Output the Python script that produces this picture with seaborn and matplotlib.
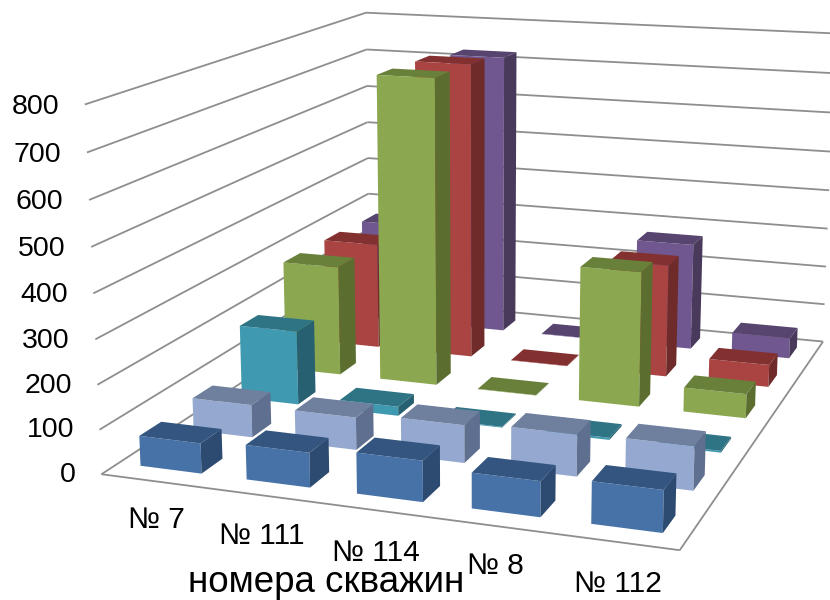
import numpy as np
import pandas as pd
import seaborn as sns
import matplotlib
matplotlib.use("Agg")
import matplotlib.pyplot as plt
from matplotlib.colors import to_rgba
from mpl_toolkits.mplot3d import Axes3D  # noqa: F401
from mpl_toolkits.mplot3d.art3d import Line3DCollection

# Depth measurements per well, one list per series (front row to back row)
wells = ["№ 7", "№ 111", "№ 114", "№ 8", "№ 112"]
series_a = [68, 77, 90, 77, 90]
series_b = [76, 75, 86, 94, 98]
series_c = [178, 22, 2, 5, 4]
series_d = [272, 750, 1, 325, 58]
series_e = [270, 745, 1, 280, 55]
series_f = [264, 725, 1, 273, 52]
tick_values = [0, 100, 200, 300, 400, 500, 600, 700, 800]
axis_title = "номера скважин"

front_colors = ["#4672A8", "#95A9D0", "#3F9AB1", "#8BA74F", "#A94442", "#70578F"]
top_colors = ["#33557F", "#6F7F9E", "#2F7485", "#68803A", "#833130", "#574570"]
side_colors = ["#2D4A70", "#5F6F8F", "#276171", "#5B6E30", "#6E2B2A", "#493A5C"]

WIDTH, HEIGHT = 830, 600
GAP_X, GAP_Y = 0.21, 0.30
GRID_COLOR = "#8E8E8E"

sns.set_theme(style="white")
plt.rcParams["font.family"] = ["Liberation Sans", "DejaVu Sans"]

table = pd.DataFrame(
    [series_a, series_b, series_c, series_d, series_e, series_f], columns=wells
)
n_rows, n_cols = table.shape
fronts = sns.color_palette(front_colors)
tops = sns.color_palette(top_colors)
sides = sns.color_palette(side_colors)

# Camera calibration: box corners (well, row, value) and where they fall on the canvas
box_corners = [
    (0, 0, 0), (n_cols, 0, 0), (n_cols, n_rows, 0), (0, n_rows, 0),
    (0, 0, 800), (0, n_rows, 800), (n_cols, n_rows, 800), (n_cols, n_rows, 300),
]
canvas_corners = [
    (102, 473), (680, 551), (823, 341), (369, 300),
    (84, 105), (367, 12), (835, 34), (828, 228),
]
design, target = [], []
for (X, Y, Z), (u, v) in zip(box_corners, canvas_corners):
    Z = Z / 100
    design.append([X, Y, Z, 1, 0, 0, 0, 0, -u * X, -u * Y, -u * Z])
    design.append([0, 0, 0, 0, X, Y, Z, 1, -v * X, -v * Y, -v * Z])
    target += [u, v]
p = np.linalg.lstsq(np.array(design, float), np.array(target, float), rcond=None)[0]
camera = np.array([
    [p[0], p[1], p[2] / 100, p[3]],
    [p[4], p[5], p[6] / 100, p[7]],
    [0, 0, 0, 1],
    [p[8], p[9], p[10] / 100, 1],
])

fig = plt.figure(figsize=(WIDTH / 100, HEIGHT / 100), dpi=100, facecolor="white")
# Square axes overflowing the figure vertically, so the aspect step leaves them alone
pad = (WIDTH - HEIGHT) / 2
ax = fig.add_axes(
    [0, -pad / HEIGHT, 1, WIDTH / HEIGHT], projection="3d", computed_zorder=False
)
ax.set_axis_off()
ax.patch.set_alpha(0)
ax.get_proj = lambda: camera
ax.viewLim.intervalx = (0, WIDTH)
ax.viewLim.intervaly = (HEIGHT + pad, -pad)

# Walls and floor
segments = []
for tick in tick_values:
    segments.append([(0, 0, tick), (0, n_rows, tick)])
    segments.append([(0, n_rows, tick), (n_cols, n_rows, tick)])
segments.append([(0, 0, 0), (n_cols, 0, 0)])
segments.append([(n_cols, 0, 0), (n_cols, n_rows, 0)])
ax.add_collection3d(
    Line3DCollection(segments, colors=GRID_COLOR, linewidths=1.3, zorder=1)
)

# Bars, back row first; hidden faces stay transparent
clear = to_rgba("white", 0)
order = 10
for row in range(n_rows - 1, -1, -1):
    for col in range(n_cols):
        face_colors = [clear, tops[row], fronts[row], clear, clear, sides[row]]
        ax.bar3d(
            col + GAP_X, row + GAP_Y, 0,
            1 - 2 * GAP_X, 1 - 2 * GAP_Y, table.iloc[row, col],
            color=face_colors, shade=False, edgecolor="none", linewidth=0, zorder=order,
        )
        order += 1


def canvas_text(x, y, text, **kwargs):
    fig.text(x / WIDTH, 1 - y / HEIGHT, text, color="black", va="center", **kwargs)


# Value labels follow the slant of the left wall
for tick, right, y in zip(tick_values, [76, 74, 72, 70, 67.5, 65.5, 63, 61, 59],
                          [475, 430, 386, 341, 295, 249, 202, 155, 107]):
    canvas_text(right, y, str(tick), ha="right", fontsize=20.5)

for well, x, y in zip(wells, [156, 262, 376, 495, 618], [520, 536, 553, 566, 584]):
    canvas_text(x, y, well, ha="center", fontsize=21.5)

canvas_text(326, 582, axis_title, ha="center", fontsize=26.5)

fig.savefig("out.png", dpi=100, facecolor="white")
